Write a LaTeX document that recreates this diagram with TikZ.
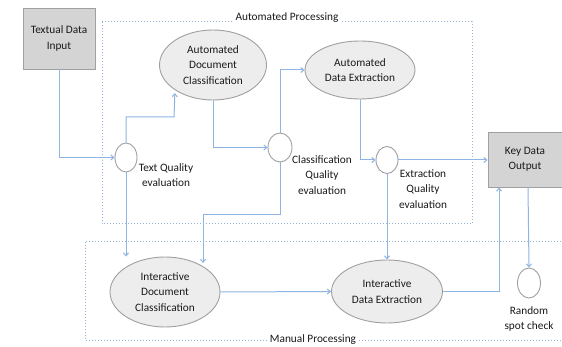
\documentclass[tikz,border=0pt]{standalone}
\usepackage{fontspec}
\setmainfont{Carlito}
\usetikzlibrary{shapes.geometric,arrows.meta}
\definecolor{flow}{HTML}{8DB4E2}
\definecolor{frame}{HTML}{95B3D7}
\definecolor{edge}{HTML}{A0A0A0}
\definecolor{boxfill}{HTML}{D4D4D4}
\definecolor{ovalfill}{HTML}{EDEDED}
\definecolor{ink}{HTML}{1A1A1A}
\tikzset{
  every node/.style={text=ink, font=\fontsize{11.3}{15.5}\selectfont},
  databox/.style={draw=edge, fill=boxfill, line width=0.9pt, inner sep=0pt, align=center},
  oval/.style={ellipse, draw=edge, fill=ovalfill, line width=0.9pt, inner sep=0pt, align=center},
  check/.style={ellipse, draw=edge, fill=white, line width=0.9pt, inner sep=0pt},
  lbl/.style={align=center, inner sep=0pt},
  group/.style={draw=frame, line width=1pt, dotted},
  flowline/.style={draw=flow, line width=1pt, -{Straight Barb[length=3pt,width=5pt]}},
}
\begin{document}
\begin{tikzpicture}[x=1pt, y=-1pt]
\useasboundingbox (0,0) rectangle (562,347);
\fill[white] (0,0) rectangle (562,347);

% processing groups
\draw[group] (102,22) rectangle (472,224);
\node[fill=white, inner xsep=3pt, inner ysep=1pt] (autolbl) at (287,18) {Automated Processing};
\draw[group] (85,242) rectangle (570,340);
\node[fill=white, inner xsep=3pt, inner ysep=1pt] (manlbl) at (313,339.5) {Manual Processing};

% data boxes
\node[databox, minimum width=72pt, minimum height=61pt] (input) at (59,38.5) {Textual Data\\Input};
\node[databox, minimum width=74pt, minimum height=55pt] (output) at (525,159.5) {Key Data\\Output};

% processing steps
\node[oval, minimum width=107pt, minimum height=70pt] (adc) at (213,65) {Automated\\Document\\Classification};
\node[oval, minimum width=110pt, minimum height=58pt] (ade) at (360,70) {Automated\\Data Extraction};
\node[oval, minimum width=110pt, minimum height=70pt] (idc) at (165,292) {Interactive\\Document\\Classification};
\node[oval, minimum width=111pt, minimum height=63pt] (ide) at (387,291.5) {Interactive\\Data Extraction};

% quality checks
\node[check, minimum width=22pt, minimum height=29pt] (tq) at (126,157.5) {};
\node[lbl] (tqlbl) at (166,175) {Text Quality\\evaluation};
\node[check, minimum width=24pt, minimum height=29pt] (cq) at (280,147.5) {};
\node[lbl] (cqlbl) at (322,175) {Classification\\Quality\\evaluation};
\node[check, minimum width=22pt, minimum height=27pt] (eq) at (387,160) {};
\node[lbl] (eqlbl) at (423,189) {Extraction\\Quality\\evaluation};
\node[check, minimum width=23pt, minimum height=30pt] (spot) at (529,283) {};
\node[lbl] (spotlbl) at (529,319) {Random\\spot check};

% flow
\draw[flowline] (input.south) |- (tq.west);
\draw[flowline] (tq.north) |- (174,117) -- (adc.south west |- 0,93);
\draw[flowline] (tq.south) -- (tq.south |- idc.north);
\draw[flowline] (adc.south) |- (cq.west);
\draw[flowline] (cq.north) |- (ade.west);
\draw[flowline] (cq.south) |- (203,215) -- (203,263);
\draw[flowline] (ade.south) |- (eq.west);
\draw[flowline] (eq.east) -- (eq.east -| output.west);
\draw[flowline] (eq.south) -- (ide.north);
\draw[flowline] (idc.east) -- (ide.west);
\draw[flowline] (ide.east) -| (499,0 |- output.south);
\draw[flowline] (output.south -| 528,0) -- (spot.north);
\end{tikzpicture}
\end{document}
